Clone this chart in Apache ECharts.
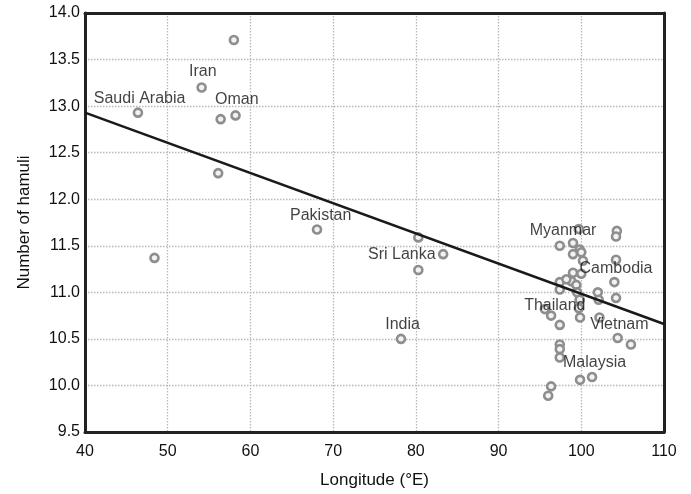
<!DOCTYPE html>
<html>
<head>
<meta charset="utf-8">
<script src="https://cdn.jsdelivr.net/npm/echarts@6/dist/echarts.min.js"></script>
<style>
  html, body { margin: 0; padding: 0; background: #fff; }
  #chart { width: 691px; height: 494px; }
</style>
</head>
<body>
<div id="chart"></div>
<script>
// longitude (°E) and number of hamuli
const longitude = [58.0, 54.1, 46.4, 56.4, 58.2, 56.1, 68.05, 48.4, 80.3, 83.3, 80.3, 78.2,
  99.7, 104.3, 104.2, 97.4, 99.0, 99.8, 99.0, 100.0, 104.2, 100.2, 99.0, 98.8, 97.4, 98.2,
  99.4, 104.0, 99.5, 97.4, 102.0, 104.2, 102.1, 99.8, 99.7, 95.6, 96.35, 99.85, 102.2, 97.4,
  104.4, 106.0, 97.4, 97.4, 97.4, 99.85, 101.3, 96.35, 96.0, 100.0]
const hamuli = [13.71, 13.20, 12.93, 12.86, 12.90, 12.28, 11.675, 11.37, 11.59, 11.41, 11.24, 10.50,
  11.68, 11.66, 11.60, 11.50, 11.53, 11.46, 11.41, 11.43, 11.35, 11.34, 11.21, 11.12, 11.11, 11.14,
  11.08, 11.11, 11.00, 11.03, 11.00, 10.94, 10.92, 10.92, 10.83, 10.82, 10.75, 10.73, 10.73, 10.65,
  10.51, 10.44, 10.44, 10.39, 10.30, 10.06, 10.09, 9.99, 9.89, 11.20]

// regression line end points
const fitX = [40, 110]
const fitY = [12.93, 10.66]

// country labels (text centre in data units)
const countries = ['Saudi Arabia', 'Iran', 'Oman', 'Pakistan', 'Sri Lanka', 'India',
  'Myanmar', 'Cambodia', 'Thailand', 'Vietnam', 'Malaysia']
const countryX = [46.6, 54.25, 58.35, 68.5, 78.3, 78.4, 97.8, 104.2, 96.8, 104.6, 101.6]
const countryY = [13.08, 13.37, 13.07, 11.82, 11.41, 10.65, 11.66, 11.26, 10.86, 10.65, 10.25]

const yTicks = [9.5, 10.0, 10.5, 11.0, 11.5, 12.0, 12.5, 13.0, 13.5, 14.0]

const myChart = echarts.init(document.getElementById('chart'))
const font = 'Liberation Sans, Arial, sans-serif'
const ink = '#111'
const frame = { show: true, onZero: false, lineStyle: { color: '#222', width: 3 } }
const dotted = { lineStyle: { type: [1.5, 1.5], color: '#b8b8b8', width: 1.3 } }

const option = {
  animation: false,
  grid: { left: 85, right: 27, top: 13, bottom: 60 },
  xAxis: [
    {
      type: 'value', min: 40, max: 110, interval: 10,
      name: 'Longitude (°E)', nameLocation: 'middle', nameGap: 40,
      nameTextStyle: { fontFamily: font, fontSize: 17, color: ink },
      axisLine: frame,
      axisTick: { show: false },
      axisLabel: { fontFamily: font, fontSize: 16, color: ink, margin: 12 },
      splitLine: dotted
    },
    {
      type: 'value', min: 40, max: 110, interval: 10, position: 'top',
      axisLine: frame, axisTick: { show: false }, axisLabel: { show: false },
      splitLine: { show: false }
    }
  ],
  yAxis: [
    {
      type: 'value', min: yTicks[0], max: yTicks[yTicks.length - 1], interval: 0.5,
      name: 'Number of hamuli', nameLocation: 'middle', nameGap: 52,
      nameTextStyle: { fontFamily: font, fontSize: 17, color: ink },
      axisLine: frame,
      axisTick: { show: false },
      axisLabel: { fontFamily: font, fontSize: 16, color: ink, margin: 5,
        formatter: v => v.toFixed(1) },
      splitLine: dotted
    },
    {
      type: 'value', min: yTicks[0], max: yTicks[yTicks.length - 1], interval: 0.5,
      position: 'right',
      axisLine: frame, axisTick: { show: false }, axisLabel: { show: false },
      splitLine: { show: false }
    }
  ],
  series: [
    {
      type: 'scatter',
      data: longitude.map((x, i) => [x, hamuli[i]]),
      symbol: 'circle',
      symbolSize: 8,
      itemStyle: { color: '#f2f2f2', borderColor: '#8e8e8e', borderWidth: 2.6, opacity: 1 },
      z: 2
    },
    {
      type: 'line',
      data: fitX.map((x, i) => [x, fitY[i]]),
      symbol: 'none',
      lineStyle: { color: '#1a1a1a', width: 2.6 },
      z: 3
    },
    {
      type: 'scatter',
      data: countries.map((n, i) => ({ value: [countryX[i], countryY[i]], name: n })),
      symbolSize: 1,
      itemStyle: { color: 'rgba(0,0,0,0)' },
      label: {
        show: true, position: 'inside', formatter: p => p.name,
        fontFamily: font, fontSize: 16, color: ink
      },
      z: 4
    }
  ]
}

option && myChart.setOption(option)
</script>
</body>
</html>
